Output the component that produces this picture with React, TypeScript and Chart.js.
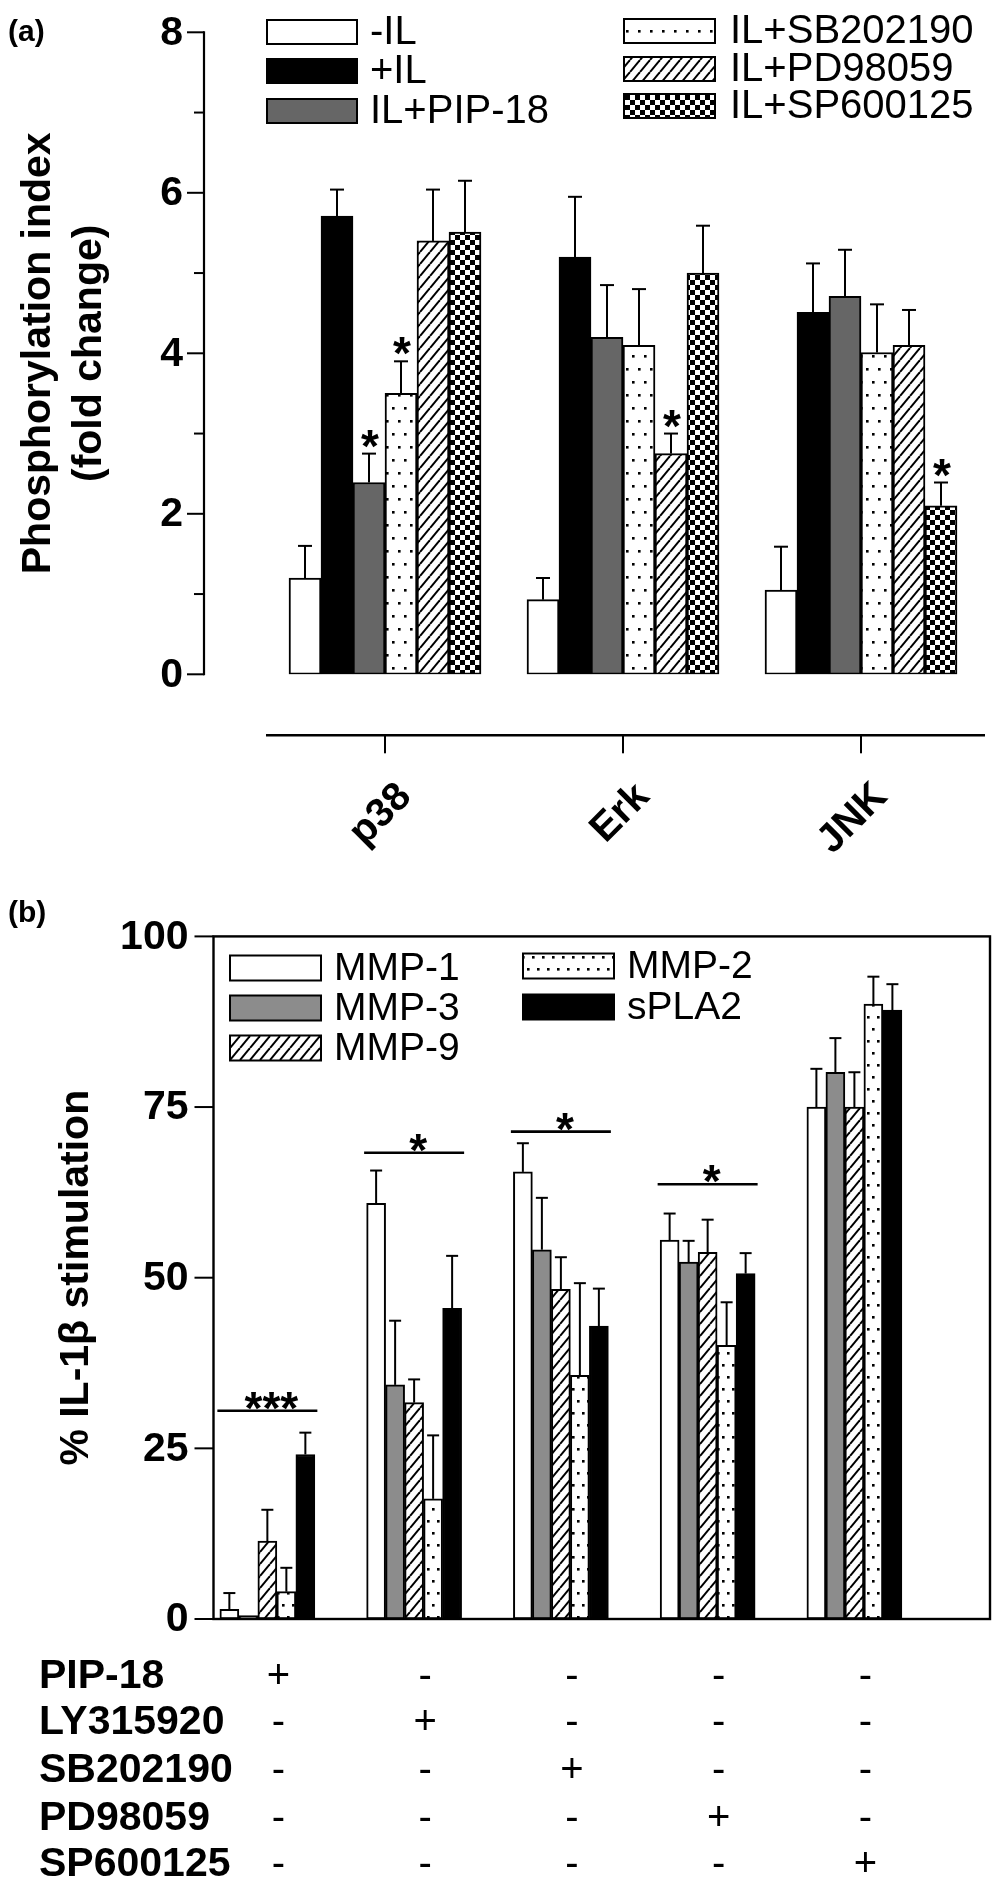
import React, { useEffect, useRef } from 'react';
import { Chart, registerables } from 'chart.js';

Chart.register(...registerables);

const FONT = "'Liberation Sans', Arial, Helvetica, sans-serif";

// ---------------- Panel (a) data ----------------
const kinaseCategories = ['p38', 'Erk', 'JNK'];
const treatmentNamesA = ['-IL', '+IL', 'IL+PIP-18', 'IL+SB202190', 'IL+PD98059', 'IL+SP600125'];
const valuesMinusIL = [1.2, 0.93, 1.05];
const errorsMinusIL = [0.4, 0.27, 0.54];
const valuesPlusIL = [5.71, 5.2, 4.51];
const errorsPlusIL = [0.33, 0.75, 0.61];
const valuesPIP18 = [2.39, 4.2, 4.71];
const errorsPIP18 = [0.36, 0.65, 0.58];
const valuesSB = [3.5, 4.1, 4.01];
const errorsSB = [0.4, 0.7, 0.6];
const valuesPD = [5.4, 2.75, 4.1];
const errorsPD = [0.64, 0.25, 0.44];
const valuesSP = [5.51, 5.0, 2.1];
const errorsSP = [0.64, 0.59, 0.29];
const starsMinusIL = [false, false, false];
const starsPlusIL = [false, false, false];
const starsPIP18 = [true, false, false];
const starsSB = [true, false, false];
const starsPD = [false, true, false];
const starsSP = [false, false, true];
const yTicksA = [0, 2, 4, 6, 8];
const yMinorTicksA = [1, 3, 5, 7];
const yTitleA = ['Phosphorylation index', '(fold change)'];

// ---------------- Panel (b) data ----------------
const inhibitorNames = ['PIP-18', 'LY315920', 'SB202190', 'PD98059', 'SP600125'];
const mediatorNames = ['MMP-1', 'MMP-3', 'MMP-9', 'MMP-2', 'sPLA2'];
const valuesMMP1 = [1.4, 60.9, 65.5, 55.5, 75.0];
const errorsMMP1 = [2.4, 4.8, 4.2, 3.9, 5.6];
const valuesMMP3 = [0.5, 34.3, 54.1, 52.3, 80.1];
const errorsMMP3 = [0, 9.4, 7.6, 3.1, 5.0];
const valuesMMP9 = [11.4, 31.7, 48.3, 53.7, 75.0];
const errorsMMP9 = [4.6, 3.4, 4.7, 4.8, 5.1];
const valuesMMP2 = [4.0, 17.6, 35.7, 40.1, 90.1];
const errorsMMP2 = [3.5, 9.3, 13.5, 6.3, 4.0];
const valuesSPLA2 = [24.1, 45.5, 42.9, 50.6, 89.2];
const errorsSPLA2 = [3.2, 7.7, 5.5, 3.0, 3.8];
const sigLevelsB = [30.5, 68.3, 71.4, 63.7, null];
const sigLabelsB = ['***', '*', '*', '*', ''];
const yTicksB = [0, 25, 50, 75, 100];
const rowPIP18 = ['+', '-', '-', '-', '-'];
const rowLY315920 = ['-', '+', '-', '-', '-'];
const rowSB202190 = ['-', '-', '+', '-', '-'];
const rowPD98059 = ['-', '-', '-', '+', '-'];
const rowSP600125 = ['-', '-', '-', '-', '+'];
const yTitleB = '% IL-1\u03b2 stimulation';

// ---------------- patterns ----------------
function makePattern(kind: string, fine = false): any {
  const c = document.createElement('canvas');
  const g = c.getContext('2d') as CanvasRenderingContext2D;
  if (kind === 'dots') {
    const W = fine ? 10 : 12;
    const H = fine ? 24 : 26;
    c.width = W; c.height = H;
    g.fillStyle = '#fff'; g.fillRect(0, 0, W, H);
    g.fillStyle = '#000';
    g.fillRect(2, 4, 2.6, 2.6);
    g.fillRect(2 + W / 2, 4 + H / 2, 2.6, 2.6);
  } else if (kind === 'hatch') {
    const W = 10, H = 12;
    c.width = W; c.height = H;
    g.fillStyle = '#fff'; g.fillRect(0, 0, W, H);
    g.strokeStyle = '#000'; g.lineWidth = 2;
    for (const off of [-W, 0, W]) {
      g.beginPath(); g.moveTo(off, H); g.lineTo(off + W, 0); g.stroke();
    }
  } else if (kind === 'checker') {
    c.width = 10; c.height = 10;
    g.fillStyle = '#fff'; g.fillRect(0, 0, 10, 10);
    g.fillStyle = '#000';
    g.fillRect(0, 0, 5, 5); g.fillRect(5, 5, 5, 5);
  }
  return g.createPattern(c, 'repeat');
}

function line(ctx: CanvasRenderingContext2D, x1: number, y1: number, x2: number, y2: number, w = 2) {
  ctx.lineWidth = w;
  ctx.beginPath(); ctx.moveTo(x1, y1); ctx.lineTo(x2, y2); ctx.stroke();
}

function text(ctx: CanvasRenderingContext2D, s: string, x: number, y: number, font: string, align: CanvasTextAlign = 'left', base: CanvasTextBaseline = 'middle') {
  ctx.font = font; ctx.textAlign = align; ctx.textBaseline = base; ctx.fillText(s, x, y);
}

function drawErrorBars(chart: any, errs: number[][], cap: number) {
  const ctx = chart.ctx as CanvasRenderingContext2D;
  const y = chart.scales.y;
  const tops: { x: number; y: number }[][] = [];
  chart.data.datasets.forEach((ds: any, k: number) => {
    const meta = chart.getDatasetMeta(k);
    tops[k] = [];
    meta.data.forEach((bar: any, i: number) => {
      const v = ds.data[i].y;
      const e = errs[k][i];
      const ey = y.getPixelForValue(v + e);
      if (e > 0) {
        line(ctx, bar.x, bar.y, bar.x, ey, 2);
        line(ctx, bar.x - cap, ey, bar.x + cap, ey, 2);
      }
      tops[k][i] = { x: bar.x, y: ey };
    });
  });
  return tops;
}

function legendItem(ctx: CanvasRenderingContext2D, x: number, cy: number, w: number, h: number, fill: any, label: string, font: string, gap: number) {
  ctx.fillStyle = fill;
  ctx.fillRect(x, cy - h / 2, w, h);
  ctx.strokeStyle = '#000';
  ctx.lineWidth = 2;
  ctx.strokeRect(x, cy - h / 2, w, h);
  ctx.fillStyle = '#000';
  text(ctx, label, x + w + gap, cy + 1, font, 'left', 'middle');
}

function buildChartA(canvas: HTMLCanvasElement) {
  const fills = ['#ffffff', '#000000', '#666666', makePattern('dots'), makePattern('hatch'), makePattern('checker')];
  const vals = [valuesMinusIL, valuesPlusIL, valuesPIP18, valuesSB, valuesPD, valuesSP];
  const errs = [errorsMinusIL, errorsPlusIL, errorsPIP18, errorsSB, errorsPD, errorsSP];
  const stars = [starsMinusIL, starsPlusIL, starsPIP18, starsSB, starsPD, starsSP];
  const plugin = {
    id: 'panelA',
    afterDraw(chart: any) {
      const ctx = chart.ctx as CanvasRenderingContext2D;
      const { chartArea } = chart;
      const x = chart.scales.x, y = chart.scales.y;
      ctx.save();
      ctx.strokeStyle = '#000';
      ctx.fillStyle = '#000';
      // y axis
      const left = chartArea.left;
      line(ctx, left, y.getPixelForValue(8) - 1, left, y.getPixelForValue(0) + 1, 2.2);
      yTicksA.forEach((t) => {
        const py = y.getPixelForValue(t);
        line(ctx, left - 17, py, left, py, 2);
        text(ctx, String(t), left - 21, py + 1, `bold 41px ${FONT}`, 'right', 'middle');
      });
      yMinorTicksA.forEach((t) => {
        const py = y.getPixelForValue(t);
        line(ctx, left - 10, py, left, py, 2);
      });
      // x axis (offset below the plot)
      const axisY = y.getPixelForValue(0) + 61;
      line(ctx, x.getPixelForValue(-0.5), axisY, chartArea.right, axisY, 2.6);
      kinaseCategories.forEach((c, i) => {
        const px = x.getPixelForValue(i);
        line(ctx, px, axisY, px, axisY + 18, 2);
        ctx.save();
        ctx.translate(px + 28, axisY + 63);
        ctx.rotate(-Math.PI / 4);
        text(ctx, c, 0, 0, `bold 40px ${FONT}`, 'right', 'alphabetic');
        ctx.restore();
      });
      // error bars + stars
      const tops = drawErrorBars(chart, errs, 7);
      tops.forEach((arr, k) => arr.forEach((p, i) => {
        if (stars[k][i]) text(ctx, '*', p.x + 1, p.y + 8, `bold 46px ${FONT}`, 'center', 'alphabetic');
      }));
      // legend
      const lf = `40px ${FONT}`;
      const leftRows = [32, 71, 111];
      const rightRows = [31, 69, 106];
      for (let k = 0; k < 3; k++) legendItem(ctx, 267, leftRows[k], 90, 24, fills[k], treatmentNamesA[k], lf, 13);
      for (let k = 3; k < 6; k++) legendItem(ctx, 624, rightRows[k - 3], 91, 24, fills[k], treatmentNamesA[k], lf, 15);
      // y title
      ctx.fillStyle = '#000';
      const midY = (y.getPixelForValue(8) + y.getPixelForValue(0)) / 2;
      [50, 101].forEach((bx, j) => {
        ctx.save();
        ctx.translate(bx, midY);
        ctx.rotate(-Math.PI / 2);
        text(ctx, yTitleA[j], 0, 0, `bold 41px ${FONT}`, 'center', 'alphabetic');
        ctx.restore();
      });
      // panel letter
      text(ctx, '(a)', 8, 41, `bold 30px ${FONT}`, 'left', 'alphabetic');
      ctx.restore();
    },
  };
  return new Chart(canvas, {
    type: 'bar',
    data: {
      datasets: vals.map((v, k) => ({
        label: treatmentNamesA[k],
        data: v.map((val, i) => ({ x: i, y: val })),
        backgroundColor: fills[k],
        borderColor: '#000',
        borderWidth: 2,
        borderSkipped: false,
        barThickness: 32,
      })),
    } as any,
    options: {
      animation: false,
      responsive: false,
      devicePixelRatio: 1,
      layout: { padding: { left: 204, right: 19, top: 32.3, bottom: 880 - 674.3 } },
      scales: {
        x: { type: 'linear', min: -0.7605, max: 2.521, display: false, offset: false },
        y: { type: 'linear', min: 0, max: 8, display: false },
      },
      plugins: { legend: { display: false }, tooltip: { enabled: false } },
    } as any,
    plugins: [plugin],
  });
}

function buildChartB(canvas: HTMLCanvasElement) {
  const fills = ['#ffffff', '#8c8c8c', makePattern('hatch'), makePattern('dots', true), '#000000'];
  const vals = [valuesMMP1, valuesMMP3, valuesMMP9, valuesMMP2, valuesSPLA2];
  const errs = [errorsMMP1, errorsMMP3, errorsMMP9, errorsMMP2, errorsSPLA2];
  const rows = [rowPIP18, rowLY315920, rowSB202190, rowPD98059, rowSP600125];
  const plugin = {
    id: 'panelB',
    afterDraw(chart: any) {
      const ctx = chart.ctx as CanvasRenderingContext2D;
      const { chartArea } = chart;
      const x = chart.scales.x, y = chart.scales.y;
      ctx.save();
      ctx.strokeStyle = '#000';
      ctx.fillStyle = '#000';
      const top = y.getPixelForValue(100), bottom = y.getPixelForValue(0);
      ctx.lineWidth = 2.4;
      ctx.strokeRect(chartArea.left, top, chartArea.right - chartArea.left, bottom - top);
      yTicksB.forEach((t) => {
        const py = y.getPixelForValue(t);
        line(ctx, chartArea.left - 19, py, chartArea.left, py, 2);
        text(ctx, String(t), chartArea.left - 25, py + 1, `bold 41px ${FONT}`, 'right', 'middle');
      });
      drawErrorBars(chart, errs, 6);
      // significance lines
      sigLevelsB.forEach((lv, i) => {
        if (lv === null) return;
        const cx = x.getPixelForValue(i);
        const ly = y.getPixelForValue(lv);
        line(ctx, cx - 50, ly, cx + 50, ly, 2.6);
        text(ctx, sigLabelsB[i], cx + 4, ly + 13, `bold 46px ${FONT}`, 'center', 'alphabetic');
      });
      // legend
      const lf = `39px ${FONT}`;
      const leftRows = [88, 128, 168];
      const rightRows = [86, 127];
      for (let k = 0; k < 3; k++) legendItem(ctx, 230, leftRows[k], 91, 25, fills[k], mediatorNames[k], lf, 13);
      for (let k = 3; k < 5; k++) legendItem(ctx, 523, rightRows[k - 3], 91, 25, fills[k], mediatorNames[k], lf, 13);
      // y title
      ctx.fillStyle = '#000';
      ctx.save();
      ctx.translate(88, (top + bottom) / 2);
      ctx.rotate(-Math.PI / 2);
      text(ctx, yTitleB, 0, 0, `bold 41px ${FONT}`, 'center', 'alphabetic');
      ctx.restore();
      // treatment table
      const rowY = [797, 843, 891, 939, 985];
      inhibitorNames.forEach((name, r) => {
        text(ctx, name, 39, rowY[r], `bold 41px ${FONT}`, 'left', 'middle');
        rows[r].forEach((s, i) => {
          text(ctx, s, x.getPixelForValue(i) + 11, rowY[r], `40px ${FONT}`, 'center', 'middle');
        });
      });
      text(ctx, '(b)', 8, 42, `bold 30px ${FONT}`, 'left', 'alphabetic');
      ctx.restore();
    },
  };
  return new Chart(canvas, {
    type: 'bar',
    data: {
      datasets: vals.map((v, k) => ({
        label: mediatorNames[k],
        data: v.map((val, i) => ({ x: i, y: val })),
        backgroundColor: fills[k],
        borderColor: '#000',
        borderWidth: 2,
        borderSkipped: false,
        barThickness: 19,
      })),
    } as any,
    options: {
      animation: false,
      responsive: false,
      devicePixelRatio: 1,
      layout: { padding: { left: 213.5, right: 14, top: 56.4, bottom: 1016 - 739 } },
      scales: {
        x: { type: 'linear', min: -0.367, max: 4.924, display: false, offset: false },
        y: { type: 'linear', min: 0, max: 100, display: false },
      },
      plugins: { legend: { display: false }, tooltip: { enabled: false } },
    } as any,
    plugins: [plugin],
  });
}

export default function App() {
  const refA = useRef<HTMLCanvasElement>(null);
  const refB = useRef<HTMLCanvasElement>(null);
  useEffect(() => {
    document.body.style.margin = '0';
    const a = buildChartA(refA.current as HTMLCanvasElement);
    const b = buildChartB(refB.current as HTMLCanvasElement);
    return () => {
      a.destroy();
      b.destroy();
    };
  }, []);
  return (
    <div style={{ width: 1004, height: 1896, background: '#fff' }}>
      <canvas ref={refA} width={1004} height={880} style={{ display: 'block', width: 1004, height: 880 }} />
      <canvas ref={refB} width={1004} height={1016} style={{ display: 'block', width: 1004, height: 1016 }} />
    </div>
  );
}
